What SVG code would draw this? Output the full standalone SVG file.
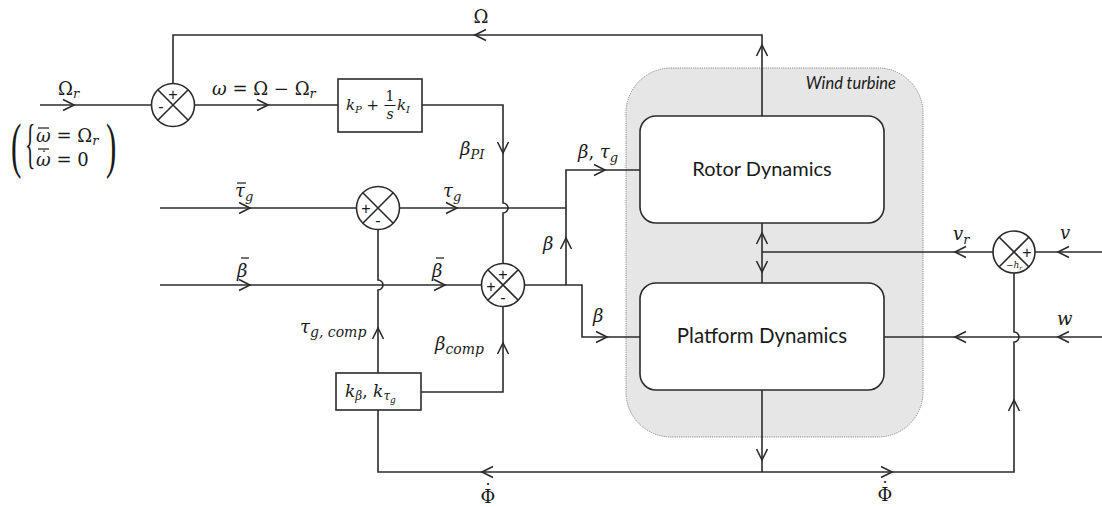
<svg xmlns="http://www.w3.org/2000/svg" xmlns:xlink="http://www.w3.org/1999/xlink" width="1102" height="507" viewBox="0 0 1102 507">
<style>
.ln{fill:none;stroke:#2b2b2b;stroke-width:1.6}
.bx{fill:#fff;stroke:#2b2b2b;stroke-width:1.6}
.m{font-family:"DejaVu Serif",serif;fill:#1a1a1a}
.p{font-family:"Liberation Serif",serif;fill:#1a1a1a}
.i{font-style:italic}
.bar{stroke:#1a1a1a;stroke-width:1.2}
.sg{font-family:"Liberation Sans",sans-serif;font-size:16px;fill:#1a1a1a;text-anchor:middle;dominant-baseline:central}
.t{font-family:Lato,"Open Sans",sans-serif;fill:#1a1a1a;text-anchor:middle}
</style>
<defs>
<path id="ch" d="M-11,-5.5 L0,0 L-11,5.5" fill="none" stroke="#2b2b2b" stroke-width="1.6"/>
</defs>

<g id="turbine">
<rect x="626" y="68" width="297" height="369" rx="45" fill="#e6e6e6" stroke="#8a8a8a" stroke-width="1" stroke-dasharray="1.2,1"/>
<text class="t" x="896" y="89" font-size="16.5" font-style="italic" text-anchor="end" style="text-anchor:end">Wind turbine</text>
</g>

<g id="connectors">
<path class="ln" d="M40,105 H151.5"/>
<path class="ln" d="M194.5,105 H338"/>
<path class="ln" d="M422,105 H503 V203 A5,5 0 0 1 503,213 V263.5"/>
<path class="ln" d="M762,116 V35 H173 V83.5"/>
<path class="ln" d="M160,208 H356.5"/>
<path class="ln" d="M399.5,208 H566"/>
<path class="ln" d="M160,285 H481.5"/>
<path class="ln" d="M524.5,285 H582 V337 H640"/>
<path class="ln" d="M566,285 V170 H640"/>
<path class="ln" d="M378,373 V290 A5,5 0 0 0 378,280 V229.5"/>
<path class="ln" d="M421,392 H503 V306.5"/>
<path class="ln" d="M762,223 V283"/>
<path class="ln" d="M993,252 H762"/>
<path class="ln" d="M1102,252 H1035"/>
<path class="ln" d="M1102,337 H884"/>
<path class="ln" d="M762,390 V472"/>
<path class="ln" d="M1014,273 V332 A5,5 0 0 1 1014,342 V472 H378 V410"/>
<use xlink:href="#ch" transform="translate(74,105)"/>
<use xlink:href="#ch" transform="translate(268,105)"/>
<use xlink:href="#ch" transform="translate(503,153) rotate(90)"/>
<use xlink:href="#ch" transform="translate(475,35) rotate(180)"/>
<use xlink:href="#ch" transform="translate(762,45) rotate(-90)"/>
<use xlink:href="#ch" transform="translate(250,208)"/>
<use xlink:href="#ch" transform="translate(457,208)"/>
<use xlink:href="#ch" transform="translate(250,285)"/>
<use xlink:href="#ch" transform="translate(445,285)"/>
<use xlink:href="#ch" transform="translate(566,238) rotate(-90)"/>
<use xlink:href="#ch" transform="translate(607,337)"/>
<use xlink:href="#ch" transform="translate(605,170)"/>
<use xlink:href="#ch" transform="translate(378,328) rotate(-90)"/>
<use xlink:href="#ch" transform="translate(503,343) rotate(-90)"/>
<use xlink:href="#ch" transform="translate(762,233) rotate(-90)"/>
<use xlink:href="#ch" transform="translate(762,272) rotate(90)"/>
<use xlink:href="#ch" transform="translate(955,252) rotate(180)"/>
<use xlink:href="#ch" transform="translate(1058,252) rotate(180)"/>
<use xlink:href="#ch" transform="translate(955,337) rotate(180)"/>
<use xlink:href="#ch" transform="translate(1058,337) rotate(180)"/>
<use xlink:href="#ch" transform="translate(762,460) rotate(90)"/>
<use xlink:href="#ch" transform="translate(482,472) rotate(180)"/>
<use xlink:href="#ch" transform="translate(892,472)"/>
<use xlink:href="#ch" transform="translate(1014,400) rotate(-90)"/>
</g>

<g id="sum1">
<circle class="bx" cx="173" cy="105" r="21.5"/>
<path class="ln" d="M157.8,89.8 L188.2,120.2 M188.2,89.8 L157.8,120.2"/>
<text class="sg" x="173" y="94">+</text>
<text class="sg" x="161" y="106">-</text>
</g>

<g id="pi">
<rect class="bx" x="338" y="79" width="84" height="53"/>
<text class="m" x="346" y="110" font-size="15"><tspan class="i">k</tspan><tspan class="i" dy="3" font-size="10">P</tspan><tspan dy="-3"> + </tspan></text>
<text class="m" x="390" y="101" font-size="14" text-anchor="middle">1</text>
<line x1="384.5" y1="105.5" x2="395.5" y2="105.5" stroke="#1a1a1a" stroke-width="1"/>
<text class="m i" x="390" y="119" font-size="14" text-anchor="middle">s</text>
<text class="m" x="397" y="110" font-size="15"><tspan class="i">k</tspan><tspan class="i" dy="3" font-size="10">I</tspan></text>
</g>

<g id="sum2">
<circle class="bx" cx="378" cy="208" r="21.5"/>
<path class="ln" d="M362.8,192.8 L393.2,223.2 M393.2,192.8 L362.8,223.2"/>
<text class="sg" x="366" y="208">+</text>
<text class="sg" x="378" y="220">-</text>
</g>

<g id="sum3">
<circle class="bx" cx="503" cy="285" r="21.5"/>
<path class="ln" d="M487.8,269.8 L518.2,300.2 M518.2,269.8 L487.8,300.2"/>
<text class="sg" x="503" y="274">+</text>
<text class="sg" x="491" y="286">+</text>
<text class="sg" x="503" y="297">-</text>
</g>

<g id="kcomp">
<rect class="bx" x="336" y="373" width="85" height="37"/>
<text class="m" x="345" y="397" font-size="17"><tspan class="i">k</tspan><tspan class="i" dy="3" font-size="12">β</tspan><tspan dy="-3">,  </tspan><tspan class="i">k</tspan><tspan class="i" dy="3" font-size="12">τ</tspan><tspan class="i" dy="3" font-size="9">g</tspan></text>
</g>

<g id="rotor">
<rect class="bx" x="640" y="116" width="244" height="107" rx="16"/>
<text class="t" x="762" y="176" font-size="20">Rotor Dynamics</text>
</g>

<g id="platform">
<rect class="bx" x="640" y="283" width="244" height="107" rx="16"/>
<text class="t" x="762" y="343" font-size="20.5">Platform Dynamics</text>
</g>

<g id="sum4">
<circle class="bx" cx="1014" cy="252" r="21"/>
<path class="ln" d="M999.2,237.2 L1028.8,266.8 M1028.8,237.2 L999.2,266.8"/>
<text class="sg" x="1027" y="252">+</text>
<text class="m" x="1014" y="268" font-size="9" text-anchor="middle">−<tspan class="i">h</tspan><tspan class="i" dy="2" font-size="6">r</tspan></text>
</g>

<g id="labels">
<text class="m" x="481" y="23" font-size="18" text-anchor="middle">Ω</text>
<text class="m" x="58" y="95" font-size="18">Ω<tspan class="i" dy="3" font-size="13">r</tspan></text>
<text class="m" x="212" y="95" font-size="18"><tspan class="i">ω</tspan> = Ω − Ω<tspan class="i" dy="3" font-size="13">r</tspan></text>
<text class="p" transform="translate(11,166) scale(0.5,1)" font-size="62">(</text>
<text class="p" transform="translate(25,162) scale(0.4,1)" font-size="54">{</text>
<text class="p" transform="translate(106,166) scale(0.5,1)" font-size="62">)</text>
<text class="m" x="36" y="142" font-size="18"><tspan class="i">ω</tspan> = Ω<tspan class="i" dy="3" font-size="13">r</tspan></text>
<line class="bar" x1="38" y1="128" x2="49" y2="128"/>
<text class="m" x="36" y="166" font-size="18"><tspan class="i">ω</tspan> = 0<tspan x="44" y="162" font-size="14" text-anchor="middle">˙</tspan></text>
<line class="bar" x1="38" y1="149" x2="49" y2="149"/>
<text class="m" x="460" y="155" font-size="18"><tspan class="i">β</tspan><tspan class="i" dy="4" font-size="13">PI</tspan></text>
<text class="m" x="235" y="197" font-size="18"><tspan class="i">τ</tspan><tspan class="i" dy="4" font-size="13">g</tspan></text>
<line class="bar" x1="237" y1="183" x2="246" y2="183"/>
<text class="m" x="443" y="197" font-size="18"><tspan class="i">τ</tspan><tspan class="i" dy="4" font-size="13">g</tspan></text>
<text class="m" x="578" y="158" font-size="18"><tspan class="i">β</tspan>, <tspan class="i">τ</tspan><tspan class="i" dy="4" font-size="13">g</tspan></text>
<text class="m" x="237" y="277" font-size="18"><tspan class="i">β</tspan></text>
<line class="bar" x1="241" y1="258" x2="249" y2="258"/>
<text class="m" x="432" y="277" font-size="18"><tspan class="i">β</tspan></text>
<line class="bar" x1="436" y1="258" x2="444" y2="258"/>
<text class="m" x="543" y="250" font-size="18"><tspan class="i">β</tspan></text>
<text class="m" x="593" y="322" font-size="18"><tspan class="i">β</tspan></text>
<text class="m" x="435" y="350" font-size="18"><tspan class="i">β</tspan><tspan class="i" dy="4" font-size="14">comp</tspan></text>
<text class="m" x="300" y="333" font-size="18"><tspan class="i">τ</tspan><tspan class="i" dy="4" font-size="14">g, comp</tspan></text>
<text class="m" x="953" y="240" font-size="18"><tspan class="i">v</tspan><tspan class="i" dy="4" font-size="13">r</tspan></text>
<text class="m" x="1060" y="239" font-size="18"><tspan class="i">v</tspan></text>
<text class="m" x="1057" y="325" font-size="18"><tspan class="i">w</tspan></text>
<text class="m" x="488" y="503" font-size="18" text-anchor="middle">Φ<tspan x="488" y="497">˙</tspan></text>
<text class="m" x="885" y="501" font-size="18" text-anchor="middle">Φ<tspan x="885" y="495">˙</tspan></text>
</g>
</svg>
